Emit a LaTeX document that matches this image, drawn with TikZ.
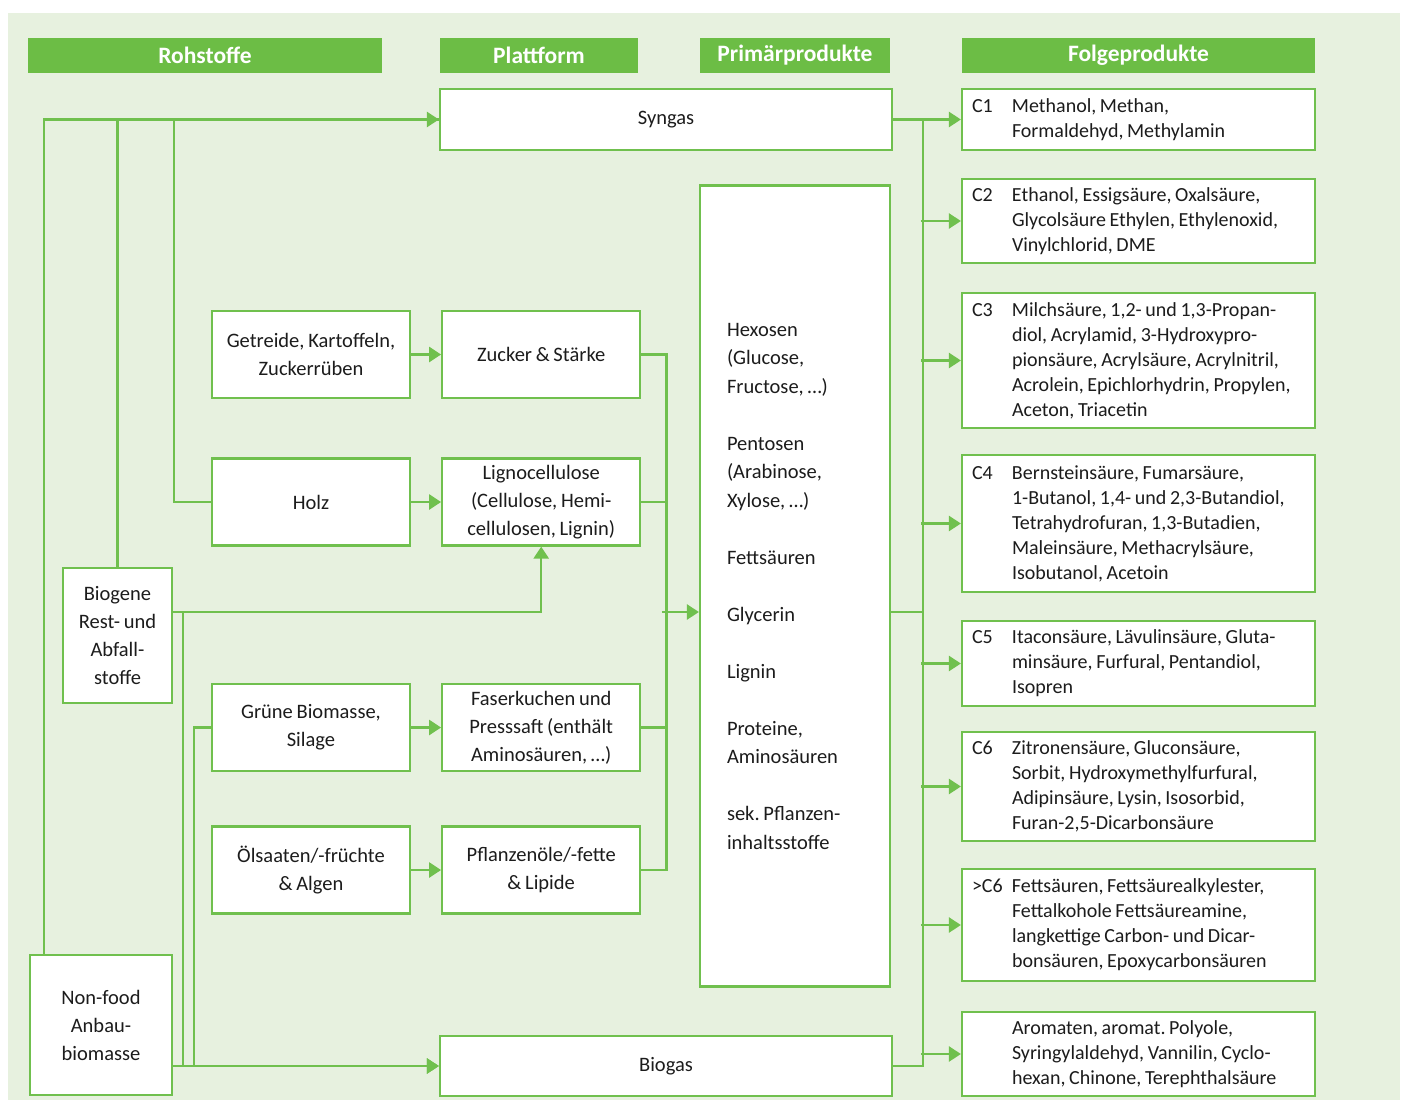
\documentclass[tikz,border=0pt]{standalone}
\usepackage{fontspec}
\setmainfont{Carlito}[WordSpace=0.8]
\usepackage{tikz}
\usetikzlibrary{positioning,arrows.meta}

\definecolor{gruen}{RGB}{108,189,69}
\definecolor{linie}{RGB}{112,192,78}
\definecolor{hinter}{RGB}{231,241,223}
\definecolor{schrift}{RGB}{28,28,28}

\newcommand{\folge}[2]{\makebox[40pt][l]{#1}\parbox[t]{293pt}{\spaceskip=0pt\relax #2}}
\frenchspacing

\begin{document}
\begin{tikzpicture}[x=1pt,y=-1pt,
    >={Triangle[width=15pt,length=12pt]},
    kopf/.style={fill=gruen, text=white, minimum height=35pt, inner sep=0pt,
        font=\bfseries\fontsize{23.5}{26}\selectfont},
    kasten/.style={draw=linie, line width=2.2pt, fill=white, align=center, inner sep=4pt,
        text=schrift, font=\fontsize{20.5}{28}\selectfont},
    links/.style={kasten, minimum width=198pt, minimum height=87pt},
    rechts/.style={kasten, minimum width=353pt, text width=333pt, align=flush left,
        inner xsep=10pt, font=\fontsize{20}{25}\selectfont}]
    \useasboundingbox (0,0) rectangle (1403,1100);
    \fill[hinter] (8,13) rectangle (1400,1100);
    %%%%% HEADERS
    \node[kopf, minimum width=354pt] (hRoh) at (205,55.5) {Rohstoffe};
    \node[kopf, minimum width=198pt] (hPlatt) at (539,55.5) {Plattform};
    \node[kopf, minimum width=190pt] (hPrim) at (795,55.5) {Primärprodukte};
    \node[kopf, minimum width=353pt] (hFolge) at (1138.5,55.5) {Folgeprodukte};
    %%%%% ROHSTOFFE AND PLATTFORM
    \node[kasten, minimum width=452pt, minimum height=61pt] (syngas) at (666,119.5) {Syngas};
    \node[links] (getreide) at (311,354.5) {Getreide, Kartoffeln,\\Zuckerrüben};
    \node[links, right=30pt of getreide] (zucker) {Zucker \& Stärke};
    \node[links] (holz) at (311,502) {Holz};
    \node[links, right=30pt of holz] (ligno) {Lignocellulose\\(Cellulose, Hemi-\\cellulosen, Lignin)};
    \node[kasten, minimum width=109pt, minimum height=135pt, inner sep=2pt] (biogene) at (117.5,635.5)
        {Biogene\\Rest- und\\Abfall-\\stoffe};
    \node[links] (gruen) at (311,727.5) {Grüne Biomasse,\\Silage};
    \node[links, right=30pt of gruen] (faser) {Faserkuchen und\\Presssaft (enthält\\Aminosäuren, \ldots)};
    \node[links] (oel) at (311,870) {Ölsaaten/-früchte\\\& Algen};
    \node[links, right=30pt of oel] (pfl) {Pflanzenöle/-fette\\\& Lipide};
    \node[kasten, minimum width=142pt, minimum height=140pt, inner sep=2pt] (nonfood) at (101,1025)
        {Non-food\\Anbau-\\biomasse};
    \node[kasten, minimum width=452pt, minimum height=60pt] (biogas) at (666,1066) {Biogas};
    %%%%% PRIMAERPRODUKTE
    \node[kasten, minimum width=190pt, minimum height=801pt, text width=136pt, align=flush left,
        inner xsep=27pt, font=\fontsize{20.5}{28.5}\selectfont] (primaer) at (795,586)
        {Hexosen\\(Glucose,\\Fructose, \ldots)\\[\baselineskip]
         Pentosen\\(Arabinose,\\Xylose, \ldots)\\[\baselineskip]
         Fettsäuren\\[\baselineskip]
         Glycerin\\[\baselineskip]
         Lignin\\[\baselineskip]
         Proteine,\\Aminosäuren\\[\baselineskip]
         sek. Pflanzen-\\inhaltsstoffe};
    %%%%% FOLGEPRODUKTE
    \node[rechts, minimum height=61pt] (c1) at (1138.5,119.5)
        {\folge{C1}{Methanol, Methan,\\Formaldehyd, Methylamin}};
    \node[rechts, minimum height=84pt] (c2) at (1138.5,221)
        {\folge{C2}{Ethanol, Essigsäure, Oxalsäure,\\Glycolsäure Ethylen, Ethylenoxid,\\Vinylchlorid, DME}};
    \node[rechts, minimum height=135pt] (c3) at (1138.5,360.5)
        {\folge{C3}{Milchsäure, 1,2- und 1,3-Propan-\\diol, Acrylamid, 3-Hydroxypro-\\pionsäure, Acrylsäure, Acrylnitril,\\Acrolein, Epichlorhydrin, Propylen,\\Aceton, Triacetin}};
    \node[rechts, minimum height=137pt] (c4) at (1138.5,523.5)
        {\folge{C4}{Bernsteinsäure, Fumarsäure,\\1-Butanol, 1,4- und 2,3-Butandiol,\\Tetrahydrofuran, 1,3-Butadien,\\Maleinsäure, Methacrylsäure,\\Isobutanol, Acetoin}};
    \node[rechts, minimum height=85pt] (c5) at (1138.5,663.5)
        {\folge{C5}{Itaconsäure, Lävulinsäure, Gluta-\\minsäure, Furfural, Pentandiol,\\Isopren}};
    \node[rechts, minimum height=109pt] (c6) at (1138.5,786.5)
        {\folge{C6}{Zitronensäure, Gluconsäure,\\Sorbit, Hydroxymethylfurfural,\\Adipinsäure, Lysin, Isosorbid,\\Furan-2,5-Dicarbonsäure}};
    \node[rechts, minimum height=112pt] (cg6) at (1138.5,925)
        {\folge{>C6}{Fettsäuren, Fettsäurealkylester,\\Fettalkohole Fettsäureamine,\\langkettige Carbon- und Dicar-\\bonsäuren, Epoxycarbonsäuren}};
    \node[rechts, minimum height=84pt] (arom) at (1138.5,1054)
        {\folge{}{Aromaten, aromat. Polyole,\\Syringylaldehyd, Vannilin, Cyclo-\\hexan, Chinone, Terephthalsäure}};
    %%%% CONNECTORS
    \begin{scope}[draw=linie, line width=2.5pt]
      % Rohstoffe to Syngas
      \draw[->] ([xshift=15pt]nonfood.north west) |- (syngas.west);
      \draw (biogene.north) |- (syngas.west);
      \draw (holz.west) -- ++(-37,0) |- (syngas.west);
      % Rohstoffe to Plattform
      \draw[->] (getreide) -- (zucker);
      \draw[->] (holz) -- (ligno);
      \draw[->] (gruen) -- (faser);
      \draw[->] (oel) -- (pfl);
      \draw[->] ([yshift=23.5pt]biogene.east) -| (ligno.south);
      \draw[->] ([yshift=23.5pt]biogene.east) -- ++(10,0) |- (biogas.west);
      \draw[->] (nonfood.east |- biogas) -- (biogas.west);
      \draw (nonfood.east |- biogas) -- ++(21,0) |- (gruen.west);
      % Plattform to Primaerprodukte
      \draw (zucker.east) -- ++(25,0) |- (pfl.east);
      \draw (ligno.east) -- ++(25,0);
      \draw (faser.east) -- ++(25,0);
      \draw[->] ([xshift=-37pt,yshift=-26pt]primaer.west) -- ([yshift=-26pt]primaer.west);
      % to Folgeprodukte
      \draw ([xshift=30pt]syngas.east) |- (biogas.east);
      \draw ([yshift=-26pt]primaer.east) -- ++(32,0);
      \draw[->] (syngas.east) -- (c1.west);
      \foreach \ziel in {c2,c3,c4,c5,c6,cg6,arom}
        \draw[->] ([xshift=-40pt]\ziel.west) -- (\ziel.west);
    \end{scope}
\end{tikzpicture}
\end{document}
